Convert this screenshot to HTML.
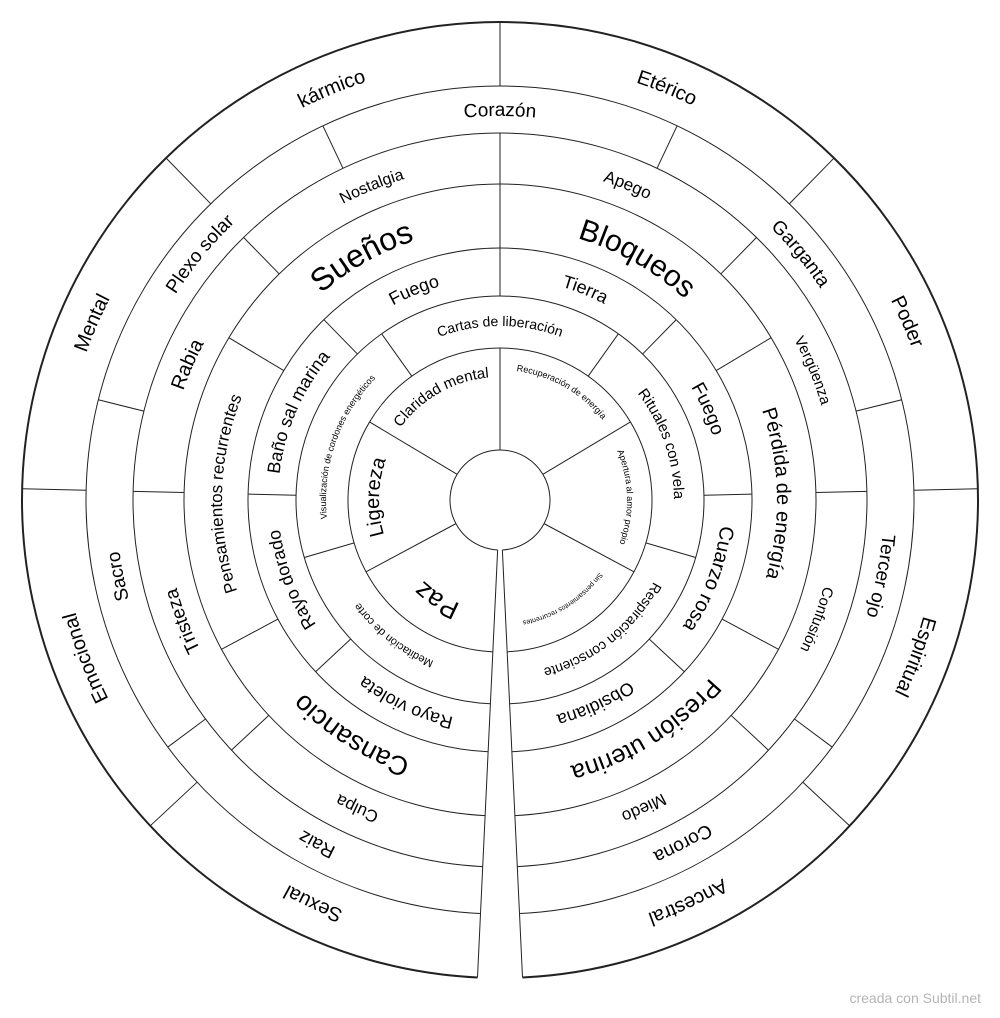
<!DOCTYPE html>
<html><head><meta charset="utf-8"><style>
html,body{margin:0;padding:0;background:#fff;}
svg{display:block;}
text{font-family:"Liberation Sans",Arial,sans-serif;fill:#000;}
</style></head><body>
<svg width="1000" height="1018" viewBox="0 0 1000 1018" xmlns="http://www.w3.org/2000/svg">
<defs>
<path id="p439" d="M500,939 A439,439 0 0 1 500,61 A439,439 0 0 1 500,939"/>
<path id="p384" d="M500,884 A384,384 0 0 1 500,116 A384,384 0 0 1 500,884"/>
<path id="p335" d="M500,835 A335,335 0 0 1 500,165 A335,335 0 0 1 500,835"/>
<path id="p273" d="M500,773 A273,273 0 0 1 500,227 A273,273 0 0 1 500,773"/>
<path id="p275" d="M500,775 A275,275 0 0 1 500,225 A275,275 0 0 1 500,775"/>
<path id="p277" d="M500,777 A277,277 0 0 1 500,223 A277,277 0 0 1 500,777"/>
<path id="p278" d="M500,778 A278,278 0 0 1 500,222 A278,278 0 0 1 500,778"/>
<path id="p222" d="M500,722 A222,222 0 0 1 500,278 A222,222 0 0 1 500,722"/>
<path id="p174" d="M500,674 A174,174 0 0 1 500,326 A174,174 0 0 1 500,674"/>
<path id="p111" d="M500,611 A111,111 0 0 1 500,389 A111,111 0 0 1 500,611"/>
<path id="p121" d="M500,621 A121,121 0 0 1 500,379 A121,121 0 0 1 500,621"/>
<path id="p123" d="M500,623 A123,123 0 0 1 500,377 A123,123 0 0 1 500,623"/>
<path id="p127" d="M500,627 A127,127 0 0 1 500,373 A127,127 0 0 1 500,627"/>
<path id="p130" d="M500,630 A130,130 0 0 1 500,370 A130,130 0 0 1 500,630"/>
</defs>
<g fill="none" stroke="#222" stroke-width="1">
<path d="M477.49,977.47 A478,478 0 1 1 522.51,977.47" stroke-width="2"/>
<path d="M480.5,913.54 A414,414 0 1 1 519.5,913.54"/>
<path d="M482.71,866.59 A367,367 0 1 1 517.29,866.59"/>
<path d="M485.12,815.65 A316,316 0 1 1 514.88,815.65"/>
<path d="M488.13,751.72 A252,252 0 1 1 511.87,751.72"/>
<path d="M490.39,703.77 A204,204 0 1 1 509.61,703.77"/>
<path d="M492.84,651.83 A152,152 0 1 1 507.16,651.83"/>
<path d="M497.64,549.94 A50,50 0 1 1 502.36,549.94"/>
<line x1="497.64" y1="549.94" x2="477.49" y2="977.47"/>
<line x1="502.36" y1="549.94" x2="522.51" y2="977.47"/>
<!-- ring1 dividers -->
<g>
<line x1="500" y1="86" x2="500" y2="22" transform="rotate(227.03 500 500)"/>
<line x1="500" y1="86" x2="500" y2="22" transform="rotate(271.35 500 500)"/>
<line x1="500" y1="86" x2="500" y2="22" transform="rotate(315.68 500 500)"/>
<line x1="500" y1="86" x2="500" y2="22" transform="rotate(0 500 500)"/>
<line x1="500" y1="86" x2="500" y2="22" transform="rotate(44.33 500 500)"/>
<line x1="500" y1="86" x2="500" y2="22" transform="rotate(88.65 500 500)"/>
<line x1="500" y1="86" x2="500" y2="22" transform="rotate(132.98 500 500)"/>
</g>
<!-- ring2 -->
<g>
<line x1="500" y1="133" x2="500" y2="86" transform="rotate(233.36 500 500)"/>
<line x1="500" y1="133" x2="500" y2="86" transform="rotate(284.01 500 500)"/>
<line x1="500" y1="133" x2="500" y2="86" transform="rotate(334.67 500 500)"/>
<line x1="500" y1="133" x2="500" y2="86" transform="rotate(25.33 500 500)"/>
<line x1="500" y1="133" x2="500" y2="86" transform="rotate(75.99 500 500)"/>
<line x1="500" y1="133" x2="500" y2="86" transform="rotate(126.64 500 500)"/>
</g>
<!-- ring3 -->
<g>
<line x1="500" y1="184" x2="500" y2="133" transform="rotate(227.03 500 500)"/>
<line x1="500" y1="184" x2="500" y2="133" transform="rotate(271.35 500 500)"/>
<line x1="500" y1="184" x2="500" y2="133" transform="rotate(315.68 500 500)"/>
<line x1="500" y1="184" x2="500" y2="133" transform="rotate(0 500 500)"/>
<line x1="500" y1="184" x2="500" y2="133" transform="rotate(44.33 500 500)"/>
<line x1="500" y1="184" x2="500" y2="133" transform="rotate(88.65 500 500)"/>
<line x1="500" y1="184" x2="500" y2="133" transform="rotate(132.98 500 500)"/>
</g>
<!-- ring4 -->
<g>
<line x1="500" y1="248" x2="500" y2="184" transform="rotate(241.8 500 500)"/>
<line x1="500" y1="248" x2="500" y2="184" transform="rotate(300.9 500 500)"/>
<line x1="500" y1="248" x2="500" y2="184" transform="rotate(0 500 500)"/>
<line x1="500" y1="248" x2="500" y2="184" transform="rotate(59.1 500 500)"/>
<line x1="500" y1="248" x2="500" y2="184" transform="rotate(118.2 500 500)"/>
</g>
<!-- ring5 -->
<g>
<line x1="500" y1="296" x2="500" y2="248" transform="rotate(227.03 500 500)"/>
<line x1="500" y1="296" x2="500" y2="248" transform="rotate(271.35 500 500)"/>
<line x1="500" y1="296" x2="500" y2="248" transform="rotate(315.68 500 500)"/>
<line x1="500" y1="296" x2="500" y2="248" transform="rotate(0 500 500)"/>
<line x1="500" y1="296" x2="500" y2="248" transform="rotate(44.33 500 500)"/>
<line x1="500" y1="296" x2="500" y2="248" transform="rotate(88.65 500 500)"/>
<line x1="500" y1="296" x2="500" y2="248" transform="rotate(132.98 500 500)"/>
</g>
<!-- ring6 -->
<g>
<line x1="500" y1="348" x2="500" y2="296" transform="rotate(253.62 500 500)"/>
<line x1="500" y1="348" x2="500" y2="296" transform="rotate(324.54 500 500)"/>
<line x1="500" y1="348" x2="500" y2="296" transform="rotate(35.46 500 500)"/>
<line x1="500" y1="348" x2="500" y2="296" transform="rotate(106.38 500 500)"/>
</g>
<!-- ring7 -->
<g>
<line x1="500" y1="450" x2="500" y2="348" transform="rotate(241.8 500 500)"/>
<line x1="500" y1="450" x2="500" y2="348" transform="rotate(300.9 500 500)"/>
<line x1="500" y1="450" x2="500" y2="348" transform="rotate(0 500 500)"/>
<line x1="500" y1="450" x2="500" y2="348" transform="rotate(59.1 500 500)"/>
<line x1="500" y1="450" x2="500" y2="348" transform="rotate(118.2 500 500)"/>
</g>
</g>

<g text-anchor="middle">
<!-- ring1 -->
<g font-size="20">
<text transform="rotate(204.85 500 500)"><textPath href="#p439" startOffset="50%">Sexual</textPath></text>
<text transform="rotate(249.15 500 500)"><textPath href="#p439" startOffset="50%">Emocional</textPath></text>
<text transform="rotate(293.45 500 500)"><textPath href="#p439" startOffset="50%">Mental</textPath></text>
<text transform="rotate(337.75 500 500)"><textPath href="#p439" startOffset="50%">kármico</textPath></text>
<text transform="rotate(22.05 500 500)"><textPath href="#p439" startOffset="50%">Etérico</textPath></text>
<text transform="rotate(66.35 500 500)"><textPath href="#p439" startOffset="50%">Poder</textPath></text>
<text transform="rotate(110.65 500 500)"><textPath href="#p439" startOffset="50%">Espiritual</textPath></text>
<text transform="rotate(154.95 500 500)"><textPath href="#p439" startOffset="50%">Ancestral</textPath></text>
</g>
<!-- ring2 -->
<g font-size="19">
<text transform="rotate(208.03 500 500)"><textPath href="#p384" startOffset="50%">Raiz</textPath></text>
<text transform="rotate(258.69 500 500)"><textPath href="#p384" startOffset="50%">Sacro</textPath></text>
<text transform="rotate(309.35 500 500)"><textPath href="#p384" startOffset="50%">Plexo solar</textPath></text>
<text transform="rotate(0 500 500)"><textPath href="#p384" startOffset="50%">Corazón</textPath></text>
<text transform="rotate(50.66 500 500)"><textPath href="#p384" startOffset="50%">Garganta</textPath></text>
<text transform="rotate(101.31 500 500)"><textPath href="#p384" startOffset="50%">Tercer ojo</textPath></text>
<text transform="rotate(151.97 500 500)"><textPath href="#p384" startOffset="50%">Corona</textPath></text>
</g>
<!-- ring3 -->
<text font-size="17" transform="rotate(204.85 500 500)"><textPath href="#p335" startOffset="50%">Culpa</textPath></text>
<text font-size="19" transform="rotate(249.15 500 500)"><textPath href="#p335" startOffset="50%">Tristeza</textPath></text>
<text font-size="20" transform="rotate(293.45 500 500)"><textPath href="#p335" startOffset="50%">Rabia</textPath></text>
<text font-size="16" transform="rotate(337.75 500 500)"><textPath href="#p335" startOffset="50%">Nostalgia</textPath></text>
<text font-size="17" transform="rotate(22.05 500 500)"><textPath href="#p335" startOffset="50%">Apego</textPath></text>
<text font-size="15" transform="rotate(67.5 500 500)"><textPath href="#p335" startOffset="50%">Vergüenza</textPath></text>
<text font-size="15" transform="rotate(110.65 500 500)"><textPath href="#p335" startOffset="50%">Confusión</textPath></text>
<text font-size="17" transform="rotate(154.95 500 500)"><textPath href="#p335" startOffset="50%">Miedo</textPath></text>
<!-- ring4 -->
<text font-size="27" transform="rotate(212.25 500 500)"><textPath href="#p275" startOffset="50%">Cansancio</textPath></text>
<text font-size="17" transform="rotate(271.35 500 500)"><textPath href="#p278" startOffset="50%">Pensamientos recurrentes</textPath></text>
<text font-size="32" transform="rotate(330.45 500 500)"><textPath href="#p273" startOffset="50%">Sueños</textPath></text>
<text font-size="30" transform="rotate(29.55 500 500)"><textPath href="#p273" startOffset="50%">Bloqueos</textPath></text>
<text font-size="20" transform="rotate(88.65 500 500)"><textPath href="#p277" startOffset="50%">Pérdida de energía</textPath></text>
<text font-size="25" transform="rotate(147.75 500 500)"><textPath href="#p275" startOffset="50%">Presión uterina</textPath></text>
<!-- ring5 -->
<g font-size="18">
<text transform="rotate(204.85 500 500)"><textPath href="#p222" startOffset="50%">Rayo violeta</textPath></text>
<text transform="rotate(249.15 500 500)"><textPath href="#p222" startOffset="50%">Rayo dorado</textPath></text>
<text transform="rotate(293.45 500 500)"><textPath href="#p222" startOffset="50%">Baño sal marina</textPath></text>
<text transform="rotate(337.75 500 500)"><textPath href="#p222" startOffset="50%">Fuego</textPath></text>
<text transform="rotate(22.05 500 500)"><textPath href="#p222" startOffset="50%">Tierra</textPath></text>
<text font-size="19" transform="rotate(66.35 500 500)"><textPath href="#p222" startOffset="50%">Fuego</textPath></text>
<text font-size="20" transform="rotate(110.65 500 500)"><textPath href="#p222" startOffset="50%">Cuarzo rosa</textPath></text>
<text transform="rotate(154.95 500 500)"><textPath href="#p222" startOffset="50%">Obsidiana</textPath></text>
</g>
<!-- ring6 -->
<text font-size="11" transform="rotate(218.16 500 500)"><textPath href="#p174" startOffset="50%">Meditación de corte</textPath></text>
<text font-size="9" transform="rotate(289.08 500 500)"><textPath href="#p174" startOffset="50%">Visualización de cordones energéticos</textPath></text>
<text font-size="14" transform="rotate(0 500 500)"><textPath href="#p174" startOffset="50%">Cartas de liberación</textPath></text>
<text font-size="15" transform="rotate(70.92 500 500)"><textPath href="#p174" startOffset="50%">Rituales con vela</textPath></text>
<text font-size="14" transform="rotate(141.84 500 500)"><textPath href="#p174" startOffset="50%">Respiración consciente</textPath></text>
<!-- ring7 -->
<text font-size="26" transform="rotate(212.25 500 500)"><textPath href="#p111" startOffset="50%">Paz</textPath></text>
<text font-size="20" transform="rotate(271.35 500 500)"><textPath href="#p121" startOffset="50%">Ligereza</textPath></text>
<text font-size="15" transform="rotate(330.45 500 500)"><textPath href="#p123" startOffset="50%">Claridad mental</textPath></text>
<text font-size="9" transform="rotate(29.55 500 500)"><textPath href="#p130" startOffset="50%">Recuperación de energía</textPath></text>
<text font-size="9" transform="rotate(88.65 500 500)"><textPath href="#p127" startOffset="50%">Apertura al amor propio</textPath></text>
<text font-size="7" transform="rotate(147.75 500 500)"><textPath href="#p123" startOffset="50%">Sin pensamientos recurrentes</textPath></text>
</g>
<text x="981" y="1003" font-size="14" text-anchor="end" style="fill:#b4b4b4">creada con Subtil.net</text>
</svg>
</body></html>
